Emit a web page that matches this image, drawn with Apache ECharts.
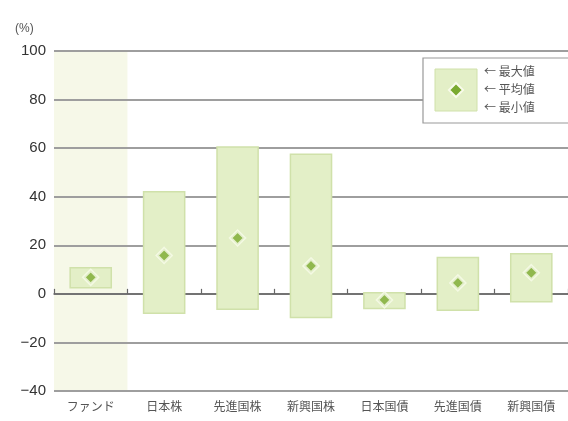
<!DOCTYPE html>
<html>
<head>
<meta charset="utf-8">
<script src="https://cdn.jsdelivr.net/npm/echarts@6/dist/echarts.min.js"></script>
<style>
  html, body { margin: 0; padding: 0; background: #fff; }
  #chart { width: 568px; height: 421px; }
</style>
</head>
<body>
<div id="chart"></div>
<script>
// カテゴリと値
var categories = ['ファンド', '日本株', '先進国株', '新興国株', '日本国債', '先進国債', '新興国債'];
var maxValues = [10.7, 42, 60.5, 57.5, 0.5, 15, 16.5];
var minValues = [2.5, -8, -6.3, -9.7, -6, -6.8, -3.3];
var avgValues = [6.8, 15.8, 23, 11.5, -2.5, 4.5, 8.7];
var legendLabels = ['← 最大値', '← 平均値', '← 最小値'];

var rangeData = categories.map(function (c, i) {
  return [i, minValues[i], maxValues[i]];
});
var avgData = categories.map(function (c, i) {
  return [i, avgValues[i]];
});
// ファンドの背景帯
var bandTop = categories.map(function (c, i) { return i === 0 ? 100 : null; });
var bandBottom = categories.map(function (c, i) { return i === 0 ? -40 : null; });

var myChart = echarts.init(document.getElementById('chart'));

var option = {
  animation: false,
  textStyle: { fontFamily: 'Liberation Sans, Arial, sans-serif' },
  grid: { left: 54, top: 51, width: 518, height: 340 },
  xAxis: [
    {
      type: 'category',
      data: categories,
      position: 'bottom',
      axisLine: { show: false, onZero: false },
      axisTick: { show: false },
      axisLabel: {
        margin: 9,
        fontSize: 12,
        color: '#555',
        fontFamily: 'Noto Sans CJK JP'
      }
    },
    {
      // 0 の位置の軸線と目盛り
      type: 'category',
      data: categories,
      position: 'top',
      axisLine: { show: true, onZero: true, onZeroAxisIndex: 0, lineStyle: { color: '#666', width: 1.5 } },
      axisTick: { show: true, inside: false, length: 5, lineStyle: { color: '#666', width: 1.2 } },
      axisLabel: { show: false }
    }
  ],
  yAxis: {
    type: 'value',
    min: -40,
    max: 100,
    interval: 20,
    axisLine: { show: false },
    axisTick: { show: false },
    axisLabel: {
      margin: 8,
      fontSize: 15,
      color: '#333',
      formatter: function (v) { return String(v).replace('-', '\u2212'); }
    },
    splitLine: { lineStyle: { color: '#9e9e9e', width: 2 } }
  },
  series: [
    {
      type: 'bar',
      stack: 'band',
      data: bandTop,
      barWidth: '100%',
      z: -1,
      silent: true,
      itemStyle: { color: '#f6f8e8' }
    },
    {
      type: 'bar',
      stack: 'band',
      data: bandBottom,
      barWidth: '100%',
      z: -1,
      silent: true,
      itemStyle: { color: '#f6f8e8' }
    },
    {
      type: 'custom',
      data: rangeData,
      renderItem: function (params, api) {
        var x = api.value(0);
        var lo = api.coord([x, api.value(1)]);
        var hi = api.coord([x, api.value(2)]);
        var w = api.size([1, 0])[0] * 0.56;
        return {
          type: 'rect',
          shape: { x: lo[0] - w / 2, y: hi[1], width: w, height: lo[1] - hi[1] },
          style: { fill: '#e3efc7', stroke: '#d0e1aa', lineWidth: 1.5 }
        };
      },
      encode: { x: 0, y: [1, 2] },
      z: 3
    },
    {
      type: 'scatter',
      data: avgData,
      symbol: 'diamond',
      symbolSize: 14,
      itemStyle: { color: '#7aaa30', borderColor: '#f8fbea', borderWidth: 3 },
      z: 4
    }
  ],
  graphic: [
    {
      type: 'text',
      left: 15, top: 23,
      style: { text: '(%)', fontSize: 12, fill: '#555', fontFamily: 'Liberation Sans' }
    },
    {
      type: 'rect',
      shape: { x: 423, y: 58, width: 150, height: 65 },
      style: { fill: '#fff', stroke: '#999', lineWidth: 1.2 },
      z: 10
    },
    {
      type: 'rect',
      shape: { x: 435, y: 69, width: 42, height: 42 },
      style: { fill: '#e3efc7', stroke: '#d0e1aa', lineWidth: 1 },
      z: 11
    },
    {
      type: 'polygon',
      shape: { points: [[456, 83], [463, 90], [456, 97], [449, 90]] },
      style: { fill: '#7aaa30', stroke: '#f8fbea', lineWidth: 2 },
      z: 12
    },
    {
      type: 'text', x: 484, y: 65, z: 12,
      style: { text: legendLabels[0], fontSize: 12, fill: '#555', fontFamily: 'Noto Sans CJK JP' }
    },
    {
      type: 'text', x: 484, y: 83, z: 12,
      style: { text: legendLabels[1], fontSize: 12, fill: '#555', fontFamily: 'Noto Sans CJK JP' }
    },
    {
      type: 'text', x: 484, y: 101, z: 12,
      style: { text: legendLabels[2], fontSize: 12, fill: '#555', fontFamily: 'Noto Sans CJK JP' }
    }
  ]
};

myChart.setOption(option);
window.addEventListener('resize', function () {
  myChart.resize();
});
</script>
</body>
</html>
